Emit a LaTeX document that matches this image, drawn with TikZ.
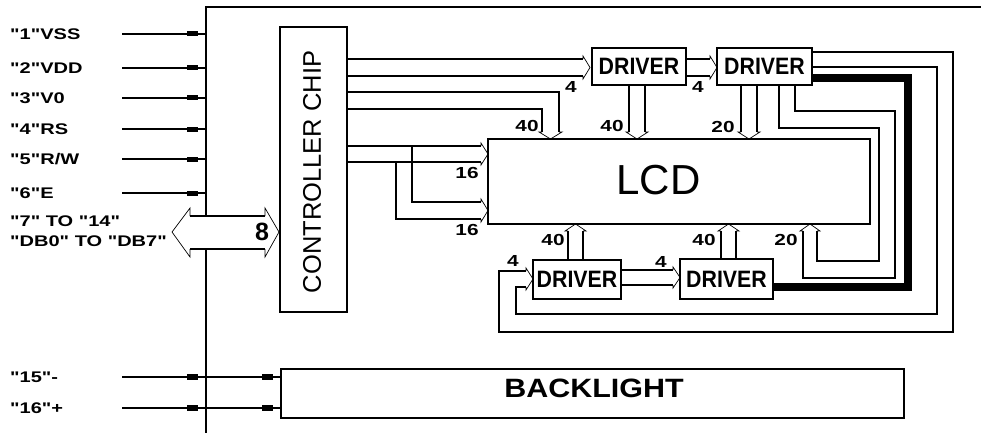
\documentclass[tikz,border=0pt]{standalone}
\usepackage{fontspec}
\setmainfont{Liberation Sans}
\newfontfamily\lblf[FakeStretch=1.3]{Liberation Sans}
\newfontfamily\drvf[FakeStretch=0.9]{Liberation Sans}
\newfontfamily\blf[FakeStretch=1.15]{Liberation Sans}
\newfontfamily\plainf{Liberation Sans}
\newcommand\hdR[3]{\draw[headln] ({#1-7},#2) -- ({#1-7},{#2-3}) -- (#1,{(#2+#3)/2}) -- ({#1-7},{#3+3}) -- ({#1-7},#3);}
\newcommand\hdD[3]{\draw[headln] (#2,{#1-7}) -- ({#2-3},{#1-7}) -- ({(#2+#3)/2},#1) -- ({#3+3},{#1-7}) -- (#3,{#1-7});}
\newcommand\hdU[3]{\draw[headln] (#2,{#1+7}) -- ({#2-3},{#1+7}) -- ({(#2+#3)/2},#1) -- ({#3+3},{#1+7}) -- (#3,{#1+7});}
\tikzset{
  ln/.style={line width=1.2pt},
  headln/.style={line width=0.7pt},
  boxst/.style={draw, line width=1.2pt, fill=white},
  lbl/.style={anchor=west, inner sep=0pt, text depth=0pt, font=\lblf\bfseries\fontsize{15.4}{16}\selectfont},
  num/.style={inner sep=0pt, text depth=0pt, font=\lblf\bfseries\fontsize{16}{17}\selectfont},
  drvtxt/.style={inner sep=0pt, text depth=0pt, font=\drvf\bfseries\fontsize{23.7}{24}\selectfont},
}
\begin{document}
\begin{tikzpicture}[x=1pt,y=-1pt]
\useasboundingbox (0,0) rectangle (981,433);
% frame
\draw[ln] (981,7) -- (206,7) -- (206,433);
% input lines
\foreach \yy/\tt in {34/{"1"VSS},68/{"2"VDD},98/{"3"V0},129/{"4"RS},159/{"5"R/W},193/{"6"E}}{
  \node[lbl] at (10,\yy) {\tt};
  \draw[ln] (122,\yy) -- (206,\yy);
  \fill (187,\yy-2.5) rectangle (198,\yy+2.5);
}
\node[lbl] (l7) at (10,221) {"7" TO "14"};
\node[lbl] (l8) at (10,241.5) {"DB0" TO "DB7"};
% boxes
\draw[boxst] (280,27) rectangle (347,312);
\node[rotate=90, inner sep=0pt, text depth=0pt, font=\plainf\fontsize{25.5}{26}\selectfont] (ctrl) at (312,172) {CONTROLLER CHIP};
\draw[boxst] (488,139) rectangle (870,224);
\node[inner sep=0pt, text depth=0pt, font=\plainf\fontsize{42}{44}\selectfont] (lcd) at (658.5,180) {LCD};
\draw[boxst] (592,48) rectangle (686,85);
\node[drvtxt] (d1) at (639,66.5) {DRIVER};
\draw[boxst] (717,48) rectangle (812,85);
\node[drvtxt] (d2) at (764.5,66.5) {DRIVER};
\draw[boxst] (533,260) rectangle (621,299);
\node[drvtxt] (d3) at (577,279.5) {DRIVER};
\draw[boxst] (680,259) rectangle (773,299);
\node[drvtxt] (d4) at (726.5,279) {DRIVER};
\draw[boxst] (281,369) rectangle (904,418);
\node[inner sep=0pt, text depth=0pt, font=\blf\bfseries\fontsize{26.5}{27}\selectfont] (bl) at (594,388) {BACKLIGHT};
% DB bus double arrow
\fill[white] (172,232) -- (190,208) -- (190,216) -- (265,216) -- (265,208) -- (279,232) -- (265,257) -- (265,249) -- (190,249) -- (190,257) -- cycle;
\draw[ln] (190,216) -- (265,216) (190,249) -- (265,249);
\draw[headln] (190,216) -- (190,208) -- (172,232) -- (190,257) -- (190,249);
\draw[headln] (265,216) -- (265,208) -- (279,232) -- (265,257) -- (265,249);
\node[inner sep=0pt, text depth=0pt, font=\bfseries\fontsize{25}{26}\selectfont] (n8) at (262,232) {8};
% backlight inputs
\foreach \yy/\tt in {377/{"15"-},408/{"16"+}}{
  \node[lbl] at (10,\yy) {\tt};
  \draw[ln] (122,\yy) -- (281,\yy);
  \fill (187,\yy-3) rectangle (198,\yy+3);
  \fill (262,\yy-3) rectangle (273,\yy+3);
}
% controller outputs
\draw[ln] (347,59) -- (583,59) (347,76) -- (583,76);
\hdR{590}{59}{76}
\draw[ln] (347,92) -- (559,92) -- (559,132);
\draw[ln] (347,109) -- (542,109) -- (542,132);
\hdD{139}{542}{559}
\draw[ln] (347,146) -- (481,146) (347,162) -- (481,162);
\hdR{488}{146}{162}
\draw[ln] (412,146) -- (412,202) -- (481,202);
\draw[ln] (396,162) -- (396,219) -- (481,219);
\hdR{488}{202}{219}
% driver 1
\draw[ln] (629,85) -- (629,132) (645,85) -- (645,132);
\hdD{139}{629}{645}
\draw[ln] (686,59) -- (710,59) (686,76) -- (710,76);
\hdR{717}{59}{76}
% driver 2
\draw[ln] (741,85) -- (741,132) (757,85) -- (757,132);
\hdD{139}{741}{757}
\draw[ln] (779,85) -- (779,128) -- (879,128) -- (879,261) -- (817,261) -- (817,231);
\draw[ln] (795,85) -- (795,111) -- (895,111) -- (895,278) -- (803,278) -- (803,231);
\hdU{224}{803}{817}
\draw[line width=7.5pt] (812,78) -- (908,78) -- (908,287) -- (773,287);
\draw[ln] (812,67) -- (937,67) -- (937,314) -- (516,314) -- (516,287) -- (526,287);
\draw[ln] (812,52) -- (953,52) -- (953,332) -- (499,332) -- (499,271) -- (526,271);
\hdR{533}{271}{287}
% bottom drivers
\draw[ln] (568,260) -- (568,231) (583,260) -- (583,231);
\hdU{224}{568}{583}
\draw[ln] (621,270) -- (673,270) (621,285) -- (673,285);
\hdR{680}{270}{285}
\draw[ln] (721,259) -- (721,231) (736,259) -- (736,231);
\hdU{224}{721}{736}
% numbers
\node[num] at (571,87) {4};
\node[num] at (527,126) {40};
\node[num] at (612,126) {40};
\node[num] at (698,87) {4};
\node[num] at (723,127) {20};
\node[num] at (467,173) {16};
\node[num] at (467,230) {16};
\node[num] at (513,261) {4};
\node[num] at (553,240) {40};
\node[num] at (661,262) {4};
\node[num] at (704,240) {40};
\node[num] at (786,240) {20};
\end{tikzpicture}
\end{document}
